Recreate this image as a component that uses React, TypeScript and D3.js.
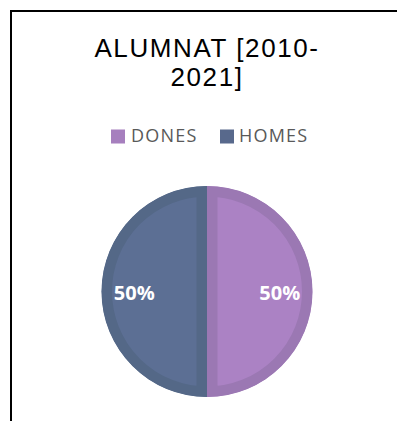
import React from "react";
import * as d3 from "d3";

const categories = ["DONES", "HOMES"];
const values = [50, 50];
const fillColors = ["#AB82C4", "#5C6F94"];
const edgeColors = ["#9B78B3", "#546887"];
const legendColors = ["#A67FBE", "#58698C"];
const titleLines = ["ALUMNAT [2010-", "2021]"];

const W = 397;
const H = 421;

export default function App() {
  const cx = 207;
  const cy = 291.5;
  const r = 105.5;
  const band = 10.5;
  const pie = d3.pie<number>().sort(null).value((d) => d)(values);
  const arc = d3.arc<d3.PieArcDatum<number>>().innerRadius(0).outerRadius(r);
  const labelArc = d3.arc<d3.PieArcDatum<number>>().innerRadius(r * 0.69).outerRadius(r * 0.69);
  const total = d3.sum(values);
  const fmt = d3.format(".0%");

  return (
    <svg
      width={W}
      height={H}
      style={{ position: "absolute", left: 0, top: 0 }}
    >
      <rect x={0} y={0} width={W} height={H} fill="#fff" />
      <path d="M11,421 V11 H397" fill="none" stroke="#000" strokeWidth={2} />
      <g fontFamily="Liberation Sans, Arial, sans-serif" fontSize={26} fill="#000" textAnchor="middle" letterSpacing={1.6}>
        {titleLines.map((t, i) => (
          <text key={i} x={207} y={57 + i * 29}>
            {t}
          </text>
        ))}
      </g>
      <g fontFamily="Open Sans, sans-serif" fontSize={18} fill="#595959" letterSpacing={1.2}>
        <rect x={111} y={129.5} width={14} height={14} fill={legendColors[0]} />
        <text x={131} y={142}>{categories[0]}</text>
        <rect x={220} y={129.5} width={14} height={14} fill={legendColors[1]} />
        <text x={239} y={142}>{categories[1]}</text>
      </g>
      <defs>
        {pie.map((p, i) => (
          <clipPath key={i} id={`clip-${i}`}>
            <path d={arc(p) || ""} />
          </clipPath>
        ))}
      </defs>
      <g transform={`translate(${cx},${cy})`}>
        {pie.map((p, i) => (
          <path
            key={i}
            d={arc(p) || ""}
            fill={fillColors[i]}
            stroke={edgeColors[i]}
            strokeWidth={band * 2}
            clipPath={`url(#clip-${i})`}
          />
        ))}
        <g fontFamily="Open Sans, sans-serif" fontWeight="bold" fontSize={20} fill="#fff" textAnchor="middle">
          {pie.map((p, i) => {
            const [lx, ly] = labelArc.centroid(p);
            return (
              <text key={i} x={lx} y={ly + 8}>
                {fmt(p.data / total)}
              </text>
            );
          })}
        </g>
      </g>
    </svg>
  );
}
